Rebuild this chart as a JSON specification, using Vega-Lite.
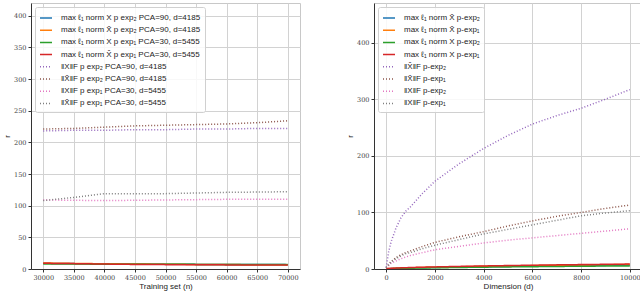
{
"$schema": "https://vega.github.io/schema/vega-lite/v6.json",
"padding": {"left": 3, "right": 2, "top": 2, "bottom": 2},
"background": "white",
"config": {
  "font": "Liberation Sans",
  "view": {"stroke": "#c8c8c8", "strokeWidth": 1},
  "axis": {"labelFont": "DejaVu Serif", "labelFontSize": 6.5, "labelColor": "#444", "titleFont": "Liberation Sans", "titleFontSize": 8, "titleFontWeight": "normal", "titleColor": "#222", "gridColor": "#d2d2d2", "gridWidth": 1, "domainColor": "#333", "tickColor": "#333", "tickSize": 3, "labelPadding": 2, "titlePadding": 2},
  "legend": {"orient": "top-left", "offset": 4, "fillColor": "rgba(255,255,255,0.85)", "strokeColor": "#d0d0d0", "padding": 4, "cornerRadius": 2, "labelFont": "Liberation Sans", "labelFontSize": 8, "labelColor": "#222", "symbolType": "stroke", "symbolSize": 144, "symbolStrokeWidth": 1.5, "rowPadding": 1.2, "labelOffset": 8}
},
"spacing": 45,
"resolve": {"scale": {"color": "independent", "strokeDash": "independent", "strokeWidth": "independent"}, "legend": {"color": "independent", "strokeDash": "independent", "strokeWidth": "independent"}},
"hconcat": [
{
  "width": 269, "height": 266,
  "data": {"values": [
{"n":30000,"r":9.0,"s":"max ℓ₁ norm X p exp₂ PCA=90, d=4185"},
{"n":35000,"r":8.5,"s":"max ℓ₁ norm X p exp₂ PCA=90, d=4185"},
{"n":40000,"r":8.2,"s":"max ℓ₁ norm X p exp₂ PCA=90, d=4185"},
{"n":45000,"r":7.8,"s":"max ℓ₁ norm X p exp₂ PCA=90, d=4185"},
{"n":50000,"r":7.5,"s":"max ℓ₁ norm X p exp₂ PCA=90, d=4185"},
{"n":55000,"r":7.3,"s":"max ℓ₁ norm X p exp₂ PCA=90, d=4185"},
{"n":60000,"r":7.1,"s":"max ℓ₁ norm X p exp₂ PCA=90, d=4185"},
{"n":65000,"r":7.0,"s":"max ℓ₁ norm X p exp₂ PCA=90, d=4185"},
{"n":70000,"r":6.9,"s":"max ℓ₁ norm X p exp₂ PCA=90, d=4185"},
{"n":30000,"r":9.5,"s":"max ℓ₁ norm X̂ p exp₂ PCA=90, d=4185"},
{"n":35000,"r":8.8,"s":"max ℓ₁ norm X̂ p exp₂ PCA=90, d=4185"},
{"n":40000,"r":8.3,"s":"max ℓ₁ norm X̂ p exp₂ PCA=90, d=4185"},
{"n":45000,"r":7.9,"s":"max ℓ₁ norm X̂ p exp₂ PCA=90, d=4185"},
{"n":50000,"r":7.5,"s":"max ℓ₁ norm X̂ p exp₂ PCA=90, d=4185"},
{"n":55000,"r":7.2,"s":"max ℓ₁ norm X̂ p exp₂ PCA=90, d=4185"},
{"n":60000,"r":7.0,"s":"max ℓ₁ norm X̂ p exp₂ PCA=90, d=4185"},
{"n":65000,"r":6.8,"s":"max ℓ₁ norm X̂ p exp₂ PCA=90, d=4185"},
{"n":70000,"r":6.7,"s":"max ℓ₁ norm X̂ p exp₂ PCA=90, d=4185"},
{"n":30000,"r":8.0,"s":"max ℓ₁ norm X p exp₁ PCA=30, d=5455"},
{"n":35000,"r":7.8,"s":"max ℓ₁ norm X p exp₁ PCA=30, d=5455"},
{"n":40000,"r":7.6,"s":"max ℓ₁ norm X p exp₁ PCA=30, d=5455"},
{"n":45000,"r":7.5,"s":"max ℓ₁ norm X p exp₁ PCA=30, d=5455"},
{"n":50000,"r":7.4,"s":"max ℓ₁ norm X p exp₁ PCA=30, d=5455"},
{"n":55000,"r":7.3,"s":"max ℓ₁ norm X p exp₁ PCA=30, d=5455"},
{"n":60000,"r":7.3,"s":"max ℓ₁ norm X p exp₁ PCA=30, d=5455"},
{"n":65000,"r":7.2,"s":"max ℓ₁ norm X p exp₁ PCA=30, d=5455"},
{"n":70000,"r":7.2,"s":"max ℓ₁ norm X p exp₁ PCA=30, d=5455"},
{"n":30000,"r":9.0,"s":"max ℓ₁ norm X̂ p exp₁ PCA=30, d=5455"},
{"n":35000,"r":8.5,"s":"max ℓ₁ norm X̂ p exp₁ PCA=30, d=5455"},
{"n":40000,"r":7.8,"s":"max ℓ₁ norm X̂ p exp₁ PCA=30, d=5455"},
{"n":45000,"r":7.2,"s":"max ℓ₁ norm X̂ p exp₁ PCA=30, d=5455"},
{"n":50000,"r":6.9,"s":"max ℓ₁ norm X̂ p exp₁ PCA=30, d=5455"},
{"n":55000,"r":6.7,"s":"max ℓ₁ norm X̂ p exp₁ PCA=30, d=5455"},
{"n":60000,"r":6.5,"s":"max ℓ₁ norm X̂ p exp₁ PCA=30, d=5455"},
{"n":65000,"r":6.4,"s":"max ℓ₁ norm X̂ p exp₁ PCA=30, d=5455"},
{"n":70000,"r":6.3,"s":"max ℓ₁ norm X̂ p exp₁ PCA=30, d=5455"},
{"n":30000,"r":218,"s":"‖X‖F p exp₂ PCA=90, d=4185"},
{"n":35000,"r":219,"s":"‖X‖F p exp₂ PCA=90, d=4185"},
{"n":40000,"r":219,"s":"‖X‖F p exp₂ PCA=90, d=4185"},
{"n":45000,"r":220,"s":"‖X‖F p exp₂ PCA=90, d=4185"},
{"n":50000,"r":220,"s":"‖X‖F p exp₂ PCA=90, d=4185"},
{"n":55000,"r":221,"s":"‖X‖F p exp₂ PCA=90, d=4185"},
{"n":60000,"r":221,"s":"‖X‖F p exp₂ PCA=90, d=4185"},
{"n":65000,"r":222,"s":"‖X‖F p exp₂ PCA=90, d=4185"},
{"n":70000,"r":222,"s":"‖X‖F p exp₂ PCA=90, d=4185"},
{"n":30000,"r":221,"s":"‖X̂‖F p exp₂ PCA=90, d=4185"},
{"n":35000,"r":222,"s":"‖X̂‖F p exp₂ PCA=90, d=4185"},
{"n":40000,"r":224,"s":"‖X̂‖F p exp₂ PCA=90, d=4185"},
{"n":45000,"r":226,"s":"‖X̂‖F p exp₂ PCA=90, d=4185"},
{"n":50000,"r":227,"s":"‖X̂‖F p exp₂ PCA=90, d=4185"},
{"n":55000,"r":228,"s":"‖X̂‖F p exp₂ PCA=90, d=4185"},
{"n":60000,"r":229,"s":"‖X̂‖F p exp₂ PCA=90, d=4185"},
{"n":65000,"r":231,"s":"‖X̂‖F p exp₂ PCA=90, d=4185"},
{"n":70000,"r":234,"s":"‖X̂‖F p exp₂ PCA=90, d=4185"},
{"n":30000,"r":109,"s":"‖X‖F p exp₁ PCA=30, d=5455"},
{"n":35000,"r":108.5,"s":"‖X‖F p exp₁ PCA=30, d=5455"},
{"n":40000,"r":108,"s":"‖X‖F p exp₁ PCA=30, d=5455"},
{"n":45000,"r":108.5,"s":"‖X‖F p exp₁ PCA=30, d=5455"},
{"n":50000,"r":109,"s":"‖X‖F p exp₁ PCA=30, d=5455"},
{"n":55000,"r":109.5,"s":"‖X‖F p exp₁ PCA=30, d=5455"},
{"n":60000,"r":110,"s":"‖X‖F p exp₁ PCA=30, d=5455"},
{"n":65000,"r":110,"s":"‖X‖F p exp₁ PCA=30, d=5455"},
{"n":70000,"r":110,"s":"‖X‖F p exp₁ PCA=30, d=5455"},
{"n":30000,"r":108,"s":"‖X̂‖F p exp₁ PCA=30, d=5455"},
{"n":35000,"r":113,"s":"‖X̂‖F p exp₁ PCA=30, d=5455"},
{"n":40000,"r":119,"s":"‖X̂‖F p exp₁ PCA=30, d=5455"},
{"n":45000,"r":119,"s":"‖X̂‖F p exp₁ PCA=30, d=5455"},
{"n":50000,"r":119,"s":"‖X̂‖F p exp₁ PCA=30, d=5455"},
{"n":55000,"r":120,"s":"‖X̂‖F p exp₁ PCA=30, d=5455"},
{"n":60000,"r":121,"s":"‖X̂‖F p exp₁ PCA=30, d=5455"},
{"n":65000,"r":121.5,"s":"‖X̂‖F p exp₁ PCA=30, d=5455"},
{"n":70000,"r":122,"s":"‖X̂‖F p exp₁ PCA=30, d=5455"}
  ]},
  "mark": {"type": "line", "clip": true},
  "encoding": {
    "x": {"field": "n", "type": "quantitative", "scale": {"domain": [28000, 72000], "nice": false, "zero": false}, "axis": {"values": [30000,35000,40000,45000,50000,55000,60000,65000,70000], "format": "d", "title": "Training set (n)"}},
    "y": {"field": "r", "type": "quantitative", "scale": {"domain": [0, 420], "nice": false}, "axis": {"values": [0,50,100,150,200,250,300,350,400], "title": "r"}},
    "color": {"field": "s", "type": "nominal", "scale": {"domain": ["max ℓ₁ norm X p exp₂ PCA=90, d=4185","max ℓ₁ norm X̂ p exp₂ PCA=90, d=4185","max ℓ₁ norm X p exp₁ PCA=30, d=5455","max ℓ₁ norm X̂ p exp₁ PCA=30, d=5455","‖X‖F p exp₂ PCA=90, d=4185","‖X̂‖F p exp₂ PCA=90, d=4185","‖X‖F p exp₁ PCA=30, d=5455","‖X̂‖F p exp₁ PCA=30, d=5455"], "range": ["#1f77b4","#ff7f0e","#2ca02c","#d62728","#9467bd","#8c564b","#e377c2","#7f7f7f"]}, "legend": {"title": null}},
    "strokeDash": {"field": "s", "type": "nominal", "scale": {"domain": ["max ℓ₁ norm X p exp₂ PCA=90, d=4185","max ℓ₁ norm X̂ p exp₂ PCA=90, d=4185","max ℓ₁ norm X p exp₁ PCA=30, d=5455","max ℓ₁ norm X̂ p exp₁ PCA=30, d=5455","‖X‖F p exp₂ PCA=90, d=4185","‖X̂‖F p exp₂ PCA=90, d=4185","‖X‖F p exp₁ PCA=30, d=5455","‖X̂‖F p exp₁ PCA=30, d=5455"], "range": [[1,0],[1,0],[1,0],[1,0],[1,2],[1,2],[1,2],[1,2]]}, "legend": {"title": null}},
    "strokeWidth": {"field": "s", "type": "nominal", "scale": {"domain": ["max ℓ₁ norm X p exp₂ PCA=90, d=4185","max ℓ₁ norm X̂ p exp₂ PCA=90, d=4185","max ℓ₁ norm X p exp₁ PCA=30, d=5455","max ℓ₁ norm X̂ p exp₁ PCA=30, d=5455","‖X‖F p exp₂ PCA=90, d=4185","‖X̂‖F p exp₂ PCA=90, d=4185","‖X‖F p exp₁ PCA=30, d=5455","‖X̂‖F p exp₁ PCA=30, d=5455"], "range": [1.5,1.5,1.5,1.5,1,1,1,1]}, "legend": {"title": null}}
  }
},
{
  "width": 268, "height": 266,
  "data": {"values": [
{"d":0,"r":0.3,"s":"max ℓ₁ norm X̂ p-exp₂"},{"d":100,"r":0.6,"s":"max ℓ₁ norm X̂ p-exp₂"},{"d":200,"r":0.8,"s":"max ℓ₁ norm X̂ p-exp₂"},{"d":400,"r":1.1,"s":"max ℓ₁ norm X̂ p-exp₂"},{"d":600,"r":1.4,"s":"max ℓ₁ norm X̂ p-exp₂"},{"d":800,"r":1.6,"s":"max ℓ₁ norm X̂ p-exp₂"},{"d":1000,"r":1.8,"s":"max ℓ₁ norm X̂ p-exp₂"},{"d":1500,"r":2.3,"s":"max ℓ₁ norm X̂ p-exp₂"},{"d":2000,"r":2.7,"s":"max ℓ₁ norm X̂ p-exp₂"},{"d":3000,"r":3.4,"s":"max ℓ₁ norm X̂ p-exp₂"},{"d":4000,"r":4.0,"s":"max ℓ₁ norm X̂ p-exp₂"},{"d":5000,"r":4.6,"s":"max ℓ₁ norm X̂ p-exp₂"},{"d":6000,"r":5.1,"s":"max ℓ₁ norm X̂ p-exp₂"},{"d":7000,"r":5.6,"s":"max ℓ₁ norm X̂ p-exp₂"},{"d":8000,"r":6.0,"s":"max ℓ₁ norm X̂ p-exp₂"},{"d":9000,"r":6.4,"s":"max ℓ₁ norm X̂ p-exp₂"},{"d":10000,"r":6.8,"s":"max ℓ₁ norm X̂ p-exp₂"},
{"d":0,"r":0.4,"s":"max ℓ₁ norm X̂ p-exp₁"},{"d":100,"r":0.8,"s":"max ℓ₁ norm X̂ p-exp₁"},{"d":200,"r":1.0,"s":"max ℓ₁ norm X̂ p-exp₁"},{"d":400,"r":1.4,"s":"max ℓ₁ norm X̂ p-exp₁"},{"d":600,"r":1.7,"s":"max ℓ₁ norm X̂ p-exp₁"},{"d":800,"r":2.0,"s":"max ℓ₁ norm X̂ p-exp₁"},{"d":1000,"r":2.2,"s":"max ℓ₁ norm X̂ p-exp₁"},{"d":1500,"r":2.8,"s":"max ℓ₁ norm X̂ p-exp₁"},{"d":2000,"r":3.2,"s":"max ℓ₁ norm X̂ p-exp₁"},{"d":3000,"r":4.0,"s":"max ℓ₁ norm X̂ p-exp₁"},{"d":4000,"r":4.8,"s":"max ℓ₁ norm X̂ p-exp₁"},{"d":5000,"r":5.4,"s":"max ℓ₁ norm X̂ p-exp₁"},{"d":6000,"r":6.0,"s":"max ℓ₁ norm X̂ p-exp₁"},{"d":7000,"r":6.6,"s":"max ℓ₁ norm X̂ p-exp₁"},{"d":8000,"r":7.1,"s":"max ℓ₁ norm X̂ p-exp₁"},{"d":9000,"r":7.6,"s":"max ℓ₁ norm X̂ p-exp₁"},{"d":10000,"r":8.0,"s":"max ℓ₁ norm X̂ p-exp₁"},
{"d":0,"r":0.2,"s":"max ℓ₁ norm X p-exp₂"},{"d":100,"r":0.4,"s":"max ℓ₁ norm X p-exp₂"},{"d":200,"r":0.6,"s":"max ℓ₁ norm X p-exp₂"},{"d":400,"r":0.8,"s":"max ℓ₁ norm X p-exp₂"},{"d":600,"r":1.0,"s":"max ℓ₁ norm X p-exp₂"},{"d":800,"r":1.2,"s":"max ℓ₁ norm X p-exp₂"},{"d":1000,"r":1.4,"s":"max ℓ₁ norm X p-exp₂"},{"d":1500,"r":1.8,"s":"max ℓ₁ norm X p-exp₂"},{"d":2000,"r":2.1,"s":"max ℓ₁ norm X p-exp₂"},{"d":3000,"r":2.7,"s":"max ℓ₁ norm X p-exp₂"},{"d":4000,"r":3.2,"s":"max ℓ₁ norm X p-exp₂"},{"d":5000,"r":3.7,"s":"max ℓ₁ norm X p-exp₂"},{"d":6000,"r":4.1,"s":"max ℓ₁ norm X p-exp₂"},{"d":7000,"r":4.5,"s":"max ℓ₁ norm X p-exp₂"},{"d":8000,"r":4.9,"s":"max ℓ₁ norm X p-exp₂"},{"d":9000,"r":5.2,"s":"max ℓ₁ norm X p-exp₂"},{"d":10000,"r":5.5,"s":"max ℓ₁ norm X p-exp₂"},
{"d":0,"r":0.5,"s":"max ℓ₁ norm X p-exp₁"},{"d":100,"r":0.9,"s":"max ℓ₁ norm X p-exp₁"},{"d":200,"r":1.2,"s":"max ℓ₁ norm X p-exp₁"},{"d":400,"r":1.6,"s":"max ℓ₁ norm X p-exp₁"},{"d":600,"r":2.0,"s":"max ℓ₁ norm X p-exp₁"},{"d":800,"r":2.3,"s":"max ℓ₁ norm X p-exp₁"},{"d":1000,"r":2.6,"s":"max ℓ₁ norm X p-exp₁"},{"d":1500,"r":3.2,"s":"max ℓ₁ norm X p-exp₁"},{"d":2000,"r":3.7,"s":"max ℓ₁ norm X p-exp₁"},{"d":3000,"r":4.6,"s":"max ℓ₁ norm X p-exp₁"},{"d":4000,"r":5.4,"s":"max ℓ₁ norm X p-exp₁"},{"d":5000,"r":6.1,"s":"max ℓ₁ norm X p-exp₁"},{"d":6000,"r":6.7,"s":"max ℓ₁ norm X p-exp₁"},{"d":7000,"r":7.3,"s":"max ℓ₁ norm X p-exp₁"},{"d":8000,"r":7.8,"s":"max ℓ₁ norm X p-exp₁"},{"d":9000,"r":8.3,"s":"max ℓ₁ norm X p-exp₁"},{"d":10000,"r":8.7,"s":"max ℓ₁ norm X p-exp₁"},
{"d":0,"r":3,"s":"‖X̂‖F p-exp₂"},{"d":100,"r":30,"s":"‖X̂‖F p-exp₂"},{"d":200,"r":48,"s":"‖X̂‖F p-exp₂"},{"d":400,"r":72,"s":"‖X̂‖F p-exp₂"},{"d":600,"r":90,"s":"‖X̂‖F p-exp₂"},{"d":800,"r":102,"s":"‖X̂‖F p-exp₂"},{"d":1000,"r":110,"s":"‖X̂‖F p-exp₂"},{"d":1500,"r":134,"s":"‖X̂‖F p-exp₂"},{"d":2000,"r":155,"s":"‖X̂‖F p-exp₂"},{"d":3000,"r":186,"s":"‖X̂‖F p-exp₂"},{"d":4000,"r":213,"s":"‖X̂‖F p-exp₂"},{"d":5000,"r":236,"s":"‖X̂‖F p-exp₂"},{"d":6000,"r":256,"s":"‖X̂‖F p-exp₂"},{"d":7000,"r":271,"s":"‖X̂‖F p-exp₂"},{"d":8000,"r":284,"s":"‖X̂‖F p-exp₂"},{"d":9000,"r":300,"s":"‖X̂‖F p-exp₂"},{"d":10000,"r":317,"s":"‖X̂‖F p-exp₂"},
{"d":0,"r":2,"s":"‖X̂‖F p-exp₁"},{"d":100,"r":8,"s":"‖X̂‖F p-exp₁"},{"d":200,"r":13,"s":"‖X̂‖F p-exp₁"},{"d":400,"r":20,"s":"‖X̂‖F p-exp₁"},{"d":600,"r":25,"s":"‖X̂‖F p-exp₁"},{"d":800,"r":29,"s":"‖X̂‖F p-exp₁"},{"d":1000,"r":32,"s":"‖X̂‖F p-exp₁"},{"d":1500,"r":40,"s":"‖X̂‖F p-exp₁"},{"d":2000,"r":47,"s":"‖X̂‖F p-exp₁"},{"d":3000,"r":57,"s":"‖X̂‖F p-exp₁"},{"d":4000,"r":66,"s":"‖X̂‖F p-exp₁"},{"d":5000,"r":76,"s":"‖X̂‖F p-exp₁"},{"d":6000,"r":85,"s":"‖X̂‖F p-exp₁"},{"d":7000,"r":93,"s":"‖X̂‖F p-exp₁"},{"d":8000,"r":100,"s":"‖X̂‖F p-exp₁"},{"d":9000,"r":107,"s":"‖X̂‖F p-exp₁"},{"d":10000,"r":113,"s":"‖X̂‖F p-exp₁"},
{"d":0,"r":2,"s":"‖X‖F p-exp₂"},{"d":100,"r":6,"s":"‖X‖F p-exp₂"},{"d":200,"r":10,"s":"‖X‖F p-exp₂"},{"d":400,"r":14,"s":"‖X‖F p-exp₂"},{"d":600,"r":18,"s":"‖X‖F p-exp₂"},{"d":800,"r":21,"s":"‖X‖F p-exp₂"},{"d":1000,"r":24,"s":"‖X‖F p-exp₂"},{"d":1500,"r":29,"s":"‖X‖F p-exp₂"},{"d":2000,"r":34,"s":"‖X‖F p-exp₂"},{"d":3000,"r":40,"s":"‖X‖F p-exp₂"},{"d":4000,"r":46,"s":"‖X‖F p-exp₂"},{"d":5000,"r":51,"s":"‖X‖F p-exp₂"},{"d":6000,"r":55,"s":"‖X‖F p-exp₂"},{"d":7000,"r":59,"s":"‖X‖F p-exp₂"},{"d":8000,"r":63,"s":"‖X‖F p-exp₂"},{"d":9000,"r":67,"s":"‖X‖F p-exp₂"},{"d":10000,"r":71,"s":"‖X‖F p-exp₂"},
{"d":0,"r":2,"s":"‖X‖F p-exp₁"},{"d":100,"r":7,"s":"‖X‖F p-exp₁"},{"d":200,"r":12,"s":"‖X‖F p-exp₁"},{"d":400,"r":18,"s":"‖X‖F p-exp₁"},{"d":600,"r":23,"s":"‖X‖F p-exp₁"},{"d":800,"r":27,"s":"‖X‖F p-exp₁"},{"d":1000,"r":29,"s":"‖X‖F p-exp₁"},{"d":1500,"r":36,"s":"‖X‖F p-exp₁"},{"d":2000,"r":42,"s":"‖X‖F p-exp₁"},{"d":3000,"r":52,"s":"‖X‖F p-exp₁"},{"d":4000,"r":62,"s":"‖X‖F p-exp₁"},{"d":5000,"r":70,"s":"‖X‖F p-exp₁"},{"d":6000,"r":78,"s":"‖X‖F p-exp₁"},{"d":7000,"r":86,"s":"‖X‖F p-exp₁"},{"d":8000,"r":94,"s":"‖X‖F p-exp₁"},{"d":9000,"r":99,"s":"‖X‖F p-exp₁"},{"d":10000,"r":103,"s":"‖X‖F p-exp₁"}
  ]},
  "mark": {"type": "line", "clip": true},
  "encoding": {
    "x": {"field": "d", "type": "quantitative", "scale": {"domain": [-500, 10500], "nice": false, "zero": false}, "axis": {"values": [0,2000,4000,6000,8000,10000], "format": "d", "title": "Dimension (d)"}},
    "y": {"field": "r", "type": "quantitative", "scale": {"domain": [0, 470], "nice": false}, "axis": {"values": [0,100,200,300,400], "title": "r"}},
    "color": {"field": "s", "type": "nominal", "scale": {"domain": ["max ℓ₁ norm X̂ p-exp₂","max ℓ₁ norm X̂ p-exp₁","max ℓ₁ norm X p-exp₂","max ℓ₁ norm X p-exp₁","‖X̂‖F p-exp₂","‖X̂‖F p-exp₁","‖X‖F p-exp₂","‖X‖F p-exp₁"], "range": ["#1f77b4","#ff7f0e","#2ca02c","#d62728","#9467bd","#8c564b","#e377c2","#7f7f7f"]}, "legend": {"title": null}},
    "strokeDash": {"field": "s", "type": "nominal", "scale": {"domain": ["max ℓ₁ norm X̂ p-exp₂","max ℓ₁ norm X̂ p-exp₁","max ℓ₁ norm X p-exp₂","max ℓ₁ norm X p-exp₁","‖X̂‖F p-exp₂","‖X̂‖F p-exp₁","‖X‖F p-exp₂","‖X‖F p-exp₁"], "range": [[1,0],[1,0],[1,0],[1,0],[1,2],[1,2],[1,2],[1,2]]}, "legend": {"title": null}},
    "strokeWidth": {"field": "s", "type": "nominal", "scale": {"domain": ["max ℓ₁ norm X̂ p-exp₂","max ℓ₁ norm X̂ p-exp₁","max ℓ₁ norm X p-exp₂","max ℓ₁ norm X p-exp₁","‖X̂‖F p-exp₂","‖X̂‖F p-exp₁","‖X‖F p-exp₂","‖X‖F p-exp₁"], "range": [1.5,1.5,1.5,1.5,1,1,1,1]}, "legend": {"title": null}}
  }
}
]
}
